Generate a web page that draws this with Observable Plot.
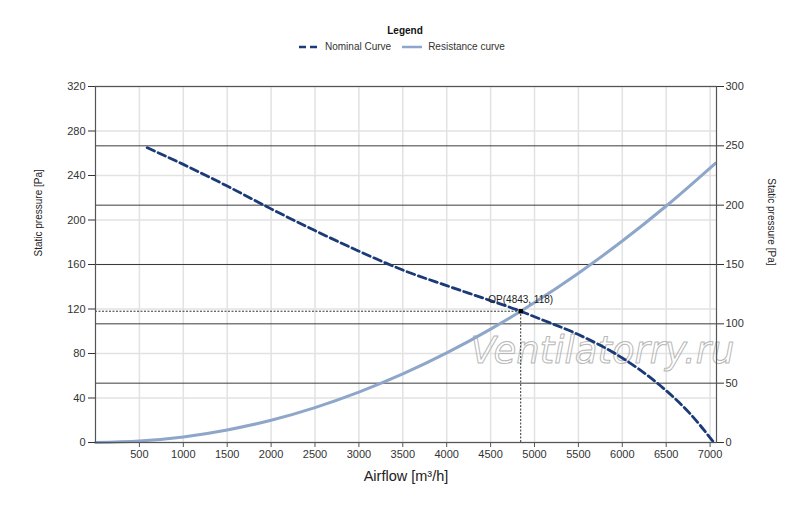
<!DOCTYPE html>
<html>
<head>
<meta charset="utf-8">
<script src="https://cdn.jsdelivr.net/npm/d3@7"></script>
<script src="https://cdn.jsdelivr.net/npm/@observablehq/plot@0.6"></script>
<style>
  body { margin: 0; background: #fff; font-family: "Liberation Sans", Arial, sans-serif; }
  #legend { height: 62px; position: relative; width: 800px; }
  #legend .title { position: absolute; top: 25px; left: 0; width: 810px; text-align: center; font-weight: bold; font-size: 10px; color: #111; }
  #legend .items { position: absolute; top: 41px; left: 298px; display: flex; align-items: center; font-size: 10px; color: #333; }
  #legend .item { display: flex; align-items: center; margin-right: 10px; }
  #legend svg { margin-right: 5px; }
</style>
</head>
<body>
<div id="legend">
  <div class="title">Legend</div>
  <div class="items">
    <div class="item"><svg width="22" height="8"><line x1="1" y1="4" x2="21" y2="4" stroke="#1b3a78" stroke-width="2.5" stroke-dasharray="7,4"/></svg>Nominal Curve</div>
    <div class="item"><svg width="22" height="8"><line x1="1" y1="4" x2="21" y2="4" stroke="#8ea6c9" stroke-width="2.5"/></svg>Resistance curve</div>
  </div>
</div>
<div id="chart"></div>
<script>
const xTicks = [500, 1000, 1500, 2000, 2500, 3000, 3500, 4000, 4500, 5000, 5500, 6000, 6500, 7000];
const leftTicks = [0, 40, 80, 120, 160, 200, 240, 280, 320];
const rightTicks = [0, 50, 100, 150, 200, 250, 300];

const nominalQ = [589, 1000, 1500, 2000, 2500, 3000, 3500, 4000, 4500, 4843, 5000, 5500, 6000, 6435, 6777, 7042];
const nominalP = [265, 250, 230.5, 210, 190.5, 172, 155, 141, 127.5, 118, 113, 97, 76, 51, 25.5, 0];

const resistQ = [0, 500, 1000, 1500, 2000, 2500, 3000, 3500, 4000, 4500, 4843, 5000, 5500, 6000, 6500, 7060];
const resistP = [0, 1.3, 5, 11.3, 20, 31.4, 45.3, 61.6, 80.5, 101.9, 118, 125.8, 152.2, 181.1, 212.6, 251];

const opQ = 4843;
const opP = 118;
const opLabel = "OP(4843, 118)";
const watermark = "Ventilatorry.ru";

const leftMax = 320, rightMax = 300;
const toLeft = v => v * leftMax / rightMax;

const nominal = nominalQ.map((q, i) => ({q, p: nominalP[i]}));
const resist = resistQ.map((q, i) => ({q, p: resistP[i]}));
const op = [{q: opQ, p: opP}];

const font = "Liberation Sans, Arial, sans-serif";

const chart = Plot.plot({
  width: 800,
  height: 445,
  marginLeft: 95,
  marginRight: 84,
  marginTop: 24,
  marginBottom: 65,
  style: {fontFamily: font, fontSize: "11px", color: "#333", background: "#fff"},
  x: {domain: [0, 7073]},
  y: {domain: [0, leftMax]},
  marks: [
    Plot.gridX(xTicks, {stroke: "#e2e2e2", strokeOpacity: 1, strokeWidth: 1.5}),
    Plot.gridY(leftTicks, {stroke: "#e2e2e2", strokeOpacity: 1, strokeWidth: 1.5}),
    Plot.ruleY(rightTicks.slice(1, -1).map(toLeft), {stroke: "#3c3c3c", strokeWidth: 1}),
    Plot.text([watermark], {frameAnchor: "bottom-right", textAnchor: "end", lineAnchor: "bottom", dx: 18, dy: -80,
      fontSize: 37, fontStyle: "italic", fontFamily: "DejaVu Sans, Liberation Sans, sans-serif",
      fill: "none", stroke: "#b8b8b8", strokeWidth: 1, paintOrder: "normal"}),
    Plot.ruleY(op, {y: "p", x1: 0, x2: "q", stroke: "#333", strokeWidth: 1, strokeDasharray: "2,1.5"}),
    Plot.ruleX(op, {x: "q", y1: 0, y2: "p", stroke: "#333", strokeWidth: 1, strokeDasharray: "2,1.5"}),
    Plot.line(resist, {x: "q", y: "p", stroke: "#8ea6c9", strokeWidth: 3, curve: "monotone-x"}),
    Plot.line(nominal, {x: "q", y: "p", stroke: "#1b3a78", strokeWidth: 2.8, strokeDasharray: "8,4", curve: "monotone-x"}),
    Plot.dot(op, {x: "q", y: "p", symbol: "square", r: 2.5, fill: "#000"}),
    Plot.text(op, {x: "q", y: "p", text: () => opLabel, dy: -11, fontSize: 10, fill: "#222"}),
    Plot.frame({stroke: "#555", strokeWidth: 1.2}),
    Plot.axisX(xTicks, {tickSize: 5, tickPadding: 3, label: null, fontSize: 11, stroke: "#555", tickFormat: d => String(d)}),
    Plot.axisY(leftTicks, {anchor: "left", tickSize: 7, tickPadding: 3, label: null, fontSize: 11}),
    Plot.axisY(rightTicks.map(toLeft), {anchor: "right", tickSize: 7, tickPadding: 2, label: null, fontSize: 11,
      tickFormat: d => String(Math.round(d * rightMax / leftMax))}),
    Plot.text(["Airflow [m³/h]"], {frameAnchor: "bottom", dy: 38, fontSize: 14.5, fill: "#222"}),
    Plot.text(["Static pressure [Pa]"], {frameAnchor: "left", rotate: -90, dx: -57, dy: -8, fontSize: 10, fill: "#222"}),
    Plot.text(["Static pressure [Pa]"], {frameAnchor: "right", rotate: 90, dx: 55, dy: 1, fontSize: 10, fill: "#222"})
  ]
});
document.getElementById("chart").appendChild(chart);
</script>
</body>
</html>
